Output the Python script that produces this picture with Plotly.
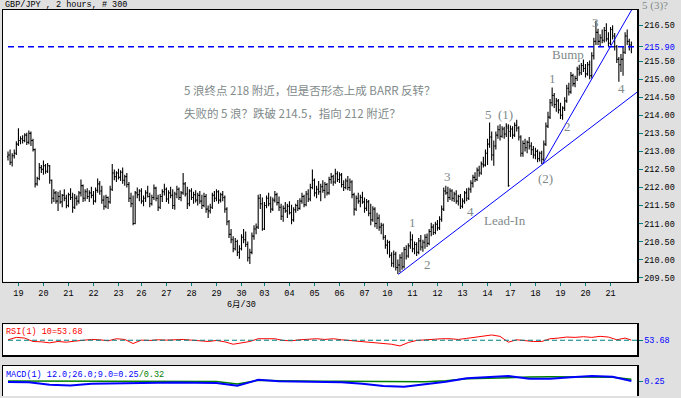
import plotly.graph_objects as go

# ---------------- data ----------------
opens = [
 212.85,212.90,212.70,212.88,212.95,213.20,213.30,213.35,213.30,213.45,
 213.25,213.50,213.30,213.05,212.10,212.25,212.55,212.50,212.60,212.45,
 212.60,212.20,211.70,211.85,211.62,211.75,211.60,211.78,211.70,211.50,
 211.80,211.72,211.45,211.70,211.62,211.85,212.05,211.70,211.88,211.75,
 211.85,211.78,211.62,211.92,212.10,211.90,211.65,211.48,211.72,211.60,
 211.95,212.40,212.30,212.40,212.28,212.42,212.20,212.30,212.08,211.70,
 211.55,211.00,211.85,211.80,211.90,211.62,211.70,211.85,211.75,211.55,
 211.72,211.98,211.70,211.45,211.75,211.88,211.95,211.68,211.85,211.78,
 211.50,211.82,211.95,211.72,211.85,212.10,211.82,211.55,211.90,211.72,
 211.80,211.65,211.78,211.62,211.50,211.75,211.40,211.35,211.45,211.78,
 211.70,211.88,211.65,211.80,211.72,211.40,211.05,210.70,210.55,210.30,
 210.50,210.20,210.30,210.62,210.55,210.42,210.05,210.20,210.65,210.85,
 210.90,211.70,211.55,210.85,211.50,211.70,211.55,211.40,211.65,211.80,
 211.58,211.45,211.20,211.42,211.35,211.48,211.30,211.10,211.38,211.50,
 211.42,211.62,211.75,211.52,211.82,211.68,212.00,212.20,211.85,211.95,
 211.88,212.02,211.92,212.08,211.85,212.22,212.30,212.15,212.38,212.22,
 212.35,212.08,212.00,212.18,212.00,212.15,211.80,211.40,211.70,211.62,
 211.72,211.60,211.42,211.60,211.28,211.10,211.40,211.00,211.15,210.90,
 210.95,210.62,210.40,210.48,210.12,209.90,210.15,209.78,209.85,210.05,
 209.80,210.28,210.10,210.38,210.55,210.30,210.42,210.20,210.52,210.35,
 210.48,210.62,210.45,210.78,210.90,210.75,210.98,210.88,211.12,211.40,
 211.90,211.85,211.72,211.90,211.70,211.82,211.62,211.75,211.48,211.62,
 211.85,211.70,211.95,212.12,212.28,212.22,212.48,212.40,212.65,212.62,
 212.95,213.20,213.40,212.90,213.15,213.45,213.60,213.42,213.62,213.48,
 213.65,213.55,213.62,213.45,213.72,213.65,213.40,212.95,213.22,213.10,
 213.25,213.15,213.05,212.90,213.00,212.80,212.95,212.78,213.20,213.70,
 213.95,214.35,214.55,214.30,214.40,214.15,214.00,214.20,214.40,214.75,
 214.65,215.10,214.88,215.02,215.28,215.18,215.38,215.30,215.15,215.40,
 215.10,215.65,216.05,216.30,216.05,216.15,216.08,216.35,216.12,216.00,
 216.38,216.20,215.90,215.55,215.40,215.55,215.75,216.20,216.05,215.95,
]
highs = [
 213.00,213.05,212.95,213.05,213.28,213.64,213.42,213.45,213.50,213.52,
 213.58,213.55,213.35,213.08,212.30,212.68,212.62,212.75,212.65,212.68,
 212.62,212.22,211.95,211.90,211.88,211.92,211.82,211.95,211.80,211.85,
 211.98,211.85,211.82,211.78,211.90,212.22,212.08,211.95,211.98,211.92,
 212.02,211.90,212.00,212.25,212.18,212.05,211.78,211.80,211.75,212.05,
 212.65,212.50,212.45,212.52,212.48,212.55,212.35,212.40,212.15,211.85,
 211.78,211.90,212.00,211.95,211.98,211.78,211.92,212.05,211.85,211.80,
 212.08,212.02,211.80,211.82,211.95,212.10,212.00,211.92,212.02,211.95,
 211.88,212.05,212.00,211.90,212.40,212.15,212.02,211.95,211.98,211.88,
 211.92,211.85,211.90,211.80,211.85,211.82,211.50,211.55,211.85,211.90,
 211.95,211.92,211.85,211.90,211.78,211.45,211.10,210.85,210.65,210.60,
 210.55,210.40,210.70,210.85,210.78,210.50,210.30,210.75,210.95,211.00,
 211.80,211.82,211.72,211.60,211.78,211.85,211.75,211.72,211.90,211.85,
 211.75,211.55,211.50,211.60,211.55,211.62,211.52,211.45,211.55,211.65,
 211.70,211.85,211.80,211.90,211.95,212.10,212.50,212.25,212.05,212.18,
 212.10,212.20,212.15,212.12,212.30,212.40,212.35,212.52,212.45,212.42,
 212.40,212.20,212.25,212.32,212.25,212.20,211.85,211.78,211.85,211.80,
 211.88,211.72,211.68,211.65,211.55,211.48,211.45,211.30,211.25,211.02,
 211.00,210.68,210.55,210.52,210.20,210.25,210.22,210.00,210.15,210.20,
 210.35,210.40,210.45,210.78,210.70,210.50,210.48,210.60,210.68,210.55,
 210.70,210.72,210.85,211.02,210.98,211.05,211.10,211.20,211.50,212.00,
 212.05,212.02,211.98,211.95,211.88,211.92,211.80,211.82,211.70,211.90,
 211.98,212.00,212.20,212.35,212.42,212.55,212.60,212.72,212.85,213.05,
 213.35,213.80,213.55,213.30,213.55,213.72,213.75,213.70,213.68,213.78,
 213.75,213.72,213.70,213.80,213.88,213.70,213.45,213.30,213.35,213.30,
 213.40,213.25,213.15,213.10,213.05,213.00,213.02,213.30,213.80,214.10,
 214.45,214.77,214.62,214.48,214.45,214.35,214.25,214.50,214.85,214.90,
 215.20,215.15,215.10,215.35,215.40,215.45,215.55,215.42,215.48,215.52,
 215.75,216.15,216.62,216.40,216.25,216.38,216.45,216.55,216.30,216.45,
 216.50,216.28,215.95,215.62,215.70,215.90,216.30,216.38,216.12,216.05,
]
lows = [
 212.75,212.62,212.58,212.80,212.90,213.15,213.20,213.22,213.25,213.18,
 213.20,213.15,213.00,212.00,212.05,212.20,212.40,212.35,212.38,212.40,
 212.10,211.55,211.60,211.55,211.35,211.55,211.45,211.62,211.42,211.45,
 211.65,211.30,211.40,211.50,211.55,211.75,211.60,211.62,211.68,211.60,
 211.70,211.52,211.58,211.85,211.80,211.55,211.38,211.42,211.40,211.55,
 211.90,212.20,212.15,212.22,212.18,212.10,212.05,212.00,211.60,211.45,
 210.95,210.98,211.70,211.62,211.55,211.48,211.60,211.72,211.45,211.50,
 211.65,211.62,211.35,211.40,211.60,211.78,211.60,211.55,211.70,211.40,
 211.38,211.70,211.65,211.62,211.80,211.75,211.40,211.48,211.65,211.55,
 211.58,211.50,211.55,211.40,211.45,211.30,211.15,211.28,211.40,211.60,
 211.62,211.55,211.58,211.62,211.30,210.95,210.60,210.45,210.20,210.25,
 210.10,210.02,210.25,210.45,210.35,209.95,209.88,210.15,210.55,210.70,
 210.85,211.40,210.80,210.82,211.42,211.48,211.30,211.35,211.58,211.50,
 211.35,211.10,211.05,211.30,211.15,211.25,210.98,211.05,211.30,211.35,
 211.38,211.55,211.45,211.48,211.60,211.62,211.95,211.75,211.70,211.80,
 211.62,211.85,211.70,211.78,211.80,212.10,212.05,212.10,212.15,212.12,
 212.00,211.90,211.95,211.92,211.90,211.70,211.22,211.35,211.55,211.45,
 211.55,211.30,211.35,211.20,210.95,211.05,210.90,210.85,210.80,210.70,
 210.55,210.30,210.15,210.05,209.80,209.78,209.70,209.60,209.65,209.72,
 209.75,210.00,210.05,210.30,210.20,210.15,210.10,210.15,210.25,210.22,
 210.30,210.35,210.40,210.65,210.68,210.70,210.80,210.82,211.05,211.35,
 211.80,211.60,211.65,211.62,211.60,211.55,211.50,211.40,211.42,211.55,
 211.62,211.65,211.85,212.00,212.15,212.18,212.30,212.35,212.55,212.58,
 212.62,213.10,212.75,212.60,213.05,213.35,213.30,213.38,213.35,213.40,
 212.02,213.40,213.35,213.40,213.55,213.30,212.85,212.85,213.00,212.95,
 213.05,212.90,212.80,212.78,212.70,212.72,212.65,212.72,213.15,213.65,
 213.90,214.25,214.20,214.10,214.05,213.90,213.88,214.12,214.35,214.55,
 214.60,214.80,214.78,214.95,215.10,215.12,215.20,215.05,215.10,215.00,
 215.02,215.55,215.95,215.95,215.90,216.00,216.02,216.05,215.92,215.95,
 216.10,215.80,215.45,214.93,215.20,215.10,215.70,215.95,215.80,215.72,
]
closes = [
 212.90,212.70,212.88,212.95,213.20,213.30,213.35,213.30,213.45,213.25,
 213.50,213.30,213.05,212.10,212.25,212.55,212.50,212.60,212.45,212.60,
 212.20,211.70,211.85,211.62,211.75,211.60,211.78,211.70,211.50,211.80,
 211.72,211.45,211.70,211.62,211.85,212.05,211.70,211.88,211.75,211.85,
 211.78,211.62,211.92,212.10,211.90,211.65,211.48,211.72,211.60,211.95,
 212.40,212.30,212.40,212.28,212.42,212.20,212.30,212.08,211.70,211.55,
 211.00,211.85,211.80,211.90,211.62,211.70,211.85,211.75,211.55,211.72,
 211.98,211.70,211.45,211.75,211.88,211.95,211.68,211.85,211.78,211.50,
 211.82,211.95,211.72,211.85,212.10,211.82,211.55,211.90,211.72,211.80,
 211.65,211.78,211.62,211.50,211.75,211.40,211.35,211.45,211.78,211.70,
 211.88,211.65,211.80,211.72,211.40,211.05,210.70,210.55,210.30,210.50,
 210.20,210.30,210.62,210.55,210.42,210.05,210.20,210.65,210.85,210.90,
 211.70,211.55,210.85,211.50,211.70,211.55,211.40,211.65,211.80,211.58,
 211.45,211.20,211.42,211.35,211.48,211.30,211.10,211.38,211.50,211.42,
 211.62,211.75,211.52,211.82,211.68,212.00,212.20,211.85,211.95,211.88,
 212.02,211.92,212.08,211.85,212.22,212.30,212.15,212.38,212.22,212.35,
 212.08,212.00,212.18,212.00,212.15,211.80,211.40,211.70,211.62,211.72,
 211.60,211.42,211.60,211.28,211.10,211.40,211.00,211.15,210.90,210.95,
 210.62,210.40,210.48,210.12,209.90,210.15,209.78,209.85,210.05,209.80,
 210.28,210.10,210.38,210.55,210.30,210.42,210.20,210.52,210.35,210.48,
 210.62,210.45,210.78,210.90,210.75,210.98,210.88,211.12,211.40,211.90,
 211.85,211.72,211.90,211.70,211.82,211.62,211.75,211.48,211.62,211.85,
 211.70,211.95,212.12,212.28,212.22,212.48,212.40,212.65,212.62,212.95,
 213.20,213.40,212.90,213.15,213.45,213.60,213.42,213.62,213.48,213.70,
 212.05,213.62,213.45,213.72,213.65,213.40,212.95,213.22,213.10,213.25,
 213.15,213.05,212.90,213.00,212.80,212.95,212.78,213.20,213.70,213.95,
 214.35,214.55,214.30,214.40,214.15,214.00,214.20,214.40,214.75,214.65,
 215.10,214.88,215.02,215.28,215.18,215.38,215.30,215.15,215.40,215.10,
 215.65,216.05,216.30,216.05,216.15,216.08,216.35,216.12,216.00,216.38,
 216.20,215.90,215.55,215.40,215.55,215.75,216.20,216.05,215.95,215.90,
]

day_tick_bars = [5, 17, 29, 41, 53, 64, 76, 88, 100, 112, 123, 135, 147,
                 159, 171, 182, 194, 206, 218, 230, 241, 253, 265, 277, 289]
day_tick_labels = ["19", "20", "21", "22", "23", "26", "27", "28", "29", "30",
                   "03", "04", "05", "06", "07", "10", "11", "12", "13", "14",
                   "17", "18", "19", "20", "21"]
price_ticks = [209.5, 210.0, 210.5, 211.0, 211.5, 212.0, 212.5, 213.0,
               213.5, 214.0, 214.5, 215.0, 215.5, 215.9, 216.5]
current_price = 215.90

rsi_bars = list(range(0, 300, 4)) + [299]
rsi_vals = [55, 62, 60, 50, 49, 46, 50, 48, 51, 54,
            56, 55, 52, 58, 56, 44, 54, 53, 55, 54,
            55, 56, 54, 53, 50, 53, 49, 42, 45, 50,
            58, 57, 58, 53, 52, 55, 57, 58, 56, 58,
            55, 53, 51, 49, 46, 44, 42, 37, 47, 53,
            55, 57, 58, 58, 56, 59, 63, 66, 69, 65,
            48, 55, 52, 50, 50, 58, 60, 63, 62, 64,
            62, 65, 63, 55, 60, 54]
rsi_last = 53.68

macd_bars = list(range(0, 300, 10)) + [299]
macd_vals = [0.21, 0.20, 0.10, 0.07, 0.14, 0.16, 0.18, 0.20, 0.19, 0.18,
             0.17, 0.06, 0.30, 0.24, 0.22, 0.23, 0.20, 0.14, 0.05, 0.02,
             0.12, 0.22, 0.36, 0.40, 0.45, 0.34, 0.34, 0.40, 0.45, 0.42, 0.25]
signal_vals = [0.25, 0.25, 0.24, 0.22, 0.23, 0.24, 0.24, 0.24, 0.24, 0.24,
               0.23, 0.13, 0.28, 0.26, 0.24, 0.24, 0.24, 0.24, 0.23, 0.22,
               0.22, 0.26, 0.34, 0.36, 0.40, 0.41, 0.42, 0.42, 0.43, 0.40, 0.32]
macd_last = 0.25

# trend lines drawn by the analyst (bar index, price)
leadin_x = [187.2, 301.7]
leadin_y = [209.59, 214.64]
steep_x = [256.4, 303.0]
steep_y = [212.645, 217.31]

wave_texts = ["1", "2", "3", "4", "5\u00a0\u00a0(1)", "Lead-In", "(2)",
              "1", "2", "Bump", "3", "4"]
wave_x = [193.8, 201.0, 211.0, 221.6, 235.7, 238.4, 258.0,
          261.0, 268.6, 268.6, 282.0, 294.5]
wave_y = [211.02, 209.86, 212.29, 211.32, 214.02, 211.08, 212.26,
          215.02, 213.69, 215.68, 216.56, 214.74]

note_lines = ["5 浪终点 218 附近，但是否形态上成 BARR 反转？",
              "失败的 5 浪？跌破 214.5，指向 212 附近？"]

# ---------------- figure ----------------
MONO = "Liberation Mono"
TEAL = "#008080"
BLUE = "#0000ff"
GREEN = "#008000"
GRAYTXT = "#7f8a8a"
XR = [-2.4, 301.7]

bars = list(range(len(closes)))
fig = go.Figure()
fig.add_trace(go.Ohlc(
    x=bars, open=opens, high=highs, low=lows, close=closes,
    increasing=dict(line=dict(color="black", width=1.1)),
    decreasing=dict(line=dict(color="black", width=1.1)),
    tickwidth=0.5, xaxis="x", yaxis="y", hoverinfo="skip", showlegend=False))
fig.add_trace(go.Scatter(x=leadin_x, y=leadin_y, mode="lines",
                         line=dict(color=BLUE, width=1), xaxis="x", yaxis="y",
                         hoverinfo="skip"))
fig.add_trace(go.Scatter(x=steep_x, y=steep_y, mode="lines",
                         line=dict(color=BLUE, width=1), xaxis="x", yaxis="y",
                         hoverinfo="skip"))
fig.add_trace(go.Scatter(x=rsi_bars, y=rsi_vals, mode="lines",
                         line=dict(color="red", width=1), xaxis="x2", yaxis="y2",
                         hoverinfo="skip"))
fig.add_trace(go.Scatter(x=macd_bars, y=signal_vals, mode="lines",
                         line=dict(color=GREEN, width=1.5), xaxis="x3", yaxis="y3",
                         hoverinfo="skip"))
fig.add_trace(go.Scatter(x=macd_bars, y=macd_vals, mode="lines",
                         line=dict(color=BLUE, width=2), xaxis="x3", yaxis="y3",
                         hoverinfo="skip"))

ytext = []
for v in price_ticks:
    s = "%.2f" % v
    if abs(v - current_price) < 1e-9:
        s = "<span style='color:%s'>%s</span>" % (BLUE, s)
    ytext.append(s)

tickfont = dict(family=MONO, size=8.5, color="black")
common_x = dict(range=XR, showgrid=False, zeroline=False, fixedrange=True)

shapes = [
    dict(type="line", xref="x", yref="y", x0=0, x1=XR[1],
         y0=current_price, y1=current_price,
         line=dict(color=BLUE, width=1.5, dash="6px,4px")),
    dict(type="line", xref="x2", yref="y2", x0=0, x1=XR[1],
         y0=rsi_last, y1=rsi_last,
         line=dict(color=TEAL, width=1.2, dash="5px,3px")),
]

annotations = [
    dict(text="GBP/JPY , 2 hours, # 300", xref="paper", yref="paper",
         x=0, y=1.0129, xanchor="left", yanchor="middle", showarrow=False,
         font=dict(family=MONO, size=8.5, color="black")),
    dict(text="5\u00a0(3)?", xref="paper", yref="paper",
         x=1.0284, y=1.0105, xanchor="center", yanchor="middle", showarrow=False,
         font=dict(family="Liberation Serif", size=11, color=GRAYTXT)),
    dict(text="6月/30", xref="x", yref="paper", x=day_tick_bars[9], y=0.2345,
         xanchor="center", yanchor="middle", showarrow=False,
         font=dict(family=MONO + ", Noto Sans CJK SC", size=8.5, color="black")),
    dict(text="<span style='color:red'>RSI(1) 10=53.68</span>", xref="paper",
         yref="paper", x=0.001, y=0.165, xanchor="left", yanchor="middle",
         showarrow=False, font=dict(family=MONO, size=8.5, color="red")),
    dict(text="<span style='color:%s'>MACD(1) 12.0;26.0;9.0=0.25</span>"
              "<span style='color:%s'>/0.32</span>" % (BLUE, GREEN),
         xref="paper", yref="paper", x=0.001, y=0.0541, xanchor="left",
         yanchor="middle", showarrow=False,
         font=dict(family=MONO, size=8.5, color=BLUE)),
]
for i, line in enumerate(note_lines):
    annotations.append(dict(
        text=line, xref="paper", yref="paper", x=0.2823,
        y=[0.7938, 0.7320][i], xanchor="left", yanchor="middle",
        showarrow=False,
        font=dict(family="Noto Sans CJK SC", size=11.5, color=GRAYTXT)))
for t, xv, yv in zip(wave_texts, wave_x, wave_y):
    annotations.append(dict(
        text=t, xref="x", yref="y", x=xv, y=yv, showarrow=False,
        xanchor="center", yanchor="middle",
        font=dict(family="Liberation Serif", size=13, color=GRAYTXT)))

fig.update_layout(
    width=681, height=398,
    margin=dict(l=3, r=44, t=10, b=0),
    paper_bgcolor="#e0e0e0", plot_bgcolor="white",
    showlegend=False,
    xaxis=dict(domain=[0, 1], anchor="y", tickmode="array",
               tickvals=day_tick_bars, ticktext=day_tick_labels, tickangle=0,
               ticks="outside", ticklen=3, tickcolor=TEAL, tickwidth=1,
               tickfont=tickfont, showline=True, linecolor="black",
               linewidth=1.5, mirror=True, rangeslider=dict(visible=False),
               **common_x),
    yaxis=dict(domain=[0.2964, 1], anchor="x", range=[209.39, 216.92],
               side="right", tickmode="array", tickvals=price_ticks,
               ticktext=ytext, ticks="outside", ticklen=4, tickcolor=TEAL,
               tickwidth=1, tickfont=tickfont, showline=True,
               linecolor="black", linewidth=1.5, mirror=True,
               showgrid=False, zeroline=False, fixedrange=True),
    xaxis2=dict(domain=[0, 1], anchor="y2", showticklabels=False, ticks="",
                showline=True, linecolor="black", linewidth=1.5, mirror=True,
                **common_x),
    yaxis2=dict(domain=[0.1057, 0.1856], anchor="x2", range=[10, 100],
                side="right", tickmode="array", tickvals=[rsi_last],
                ticktext=["%.2f" % rsi_last], ticks="outside", ticklen=4,
                tickcolor=TEAL, tickfont=dict(family=MONO, size=8.5, color=BLUE),
                showline=True, linecolor="black", linewidth=1.5, mirror=True,
                showgrid=False, zeroline=False, fixedrange=True),
    xaxis3=dict(domain=[0, 1], anchor="y3", side="top", showticklabels=False,
                ticks="", showline=True, linecolor="black", linewidth=1.5,
                mirror=False, **common_x),
    yaxis3=dict(domain=[0, 0.0773], anchor="x3", range=[-0.35, 0.85],
                side="right", tickmode="array", tickvals=[macd_last],
                ticktext=["%.2f" % macd_last], ticks="outside", ticklen=4,
                tickcolor=TEAL, tickfont=dict(family=MONO, size=8.5, color=BLUE),
                showline=True, linecolor="black", linewidth=1.5, mirror=True,
                showgrid=False, zeroline=False, fixedrange=True),
    shapes=shapes,
    annotations=annotations,
)

fig.write_html(
    "out.html",
    config={"displayModeBar": False, "staticPlot": True},
    post_script="document.body.style.margin='0';"
                "document.body.style.padding='0';"
                "document.body.style.overflow='hidden';"
                "document.body.style.background='#e0e0e0';")
